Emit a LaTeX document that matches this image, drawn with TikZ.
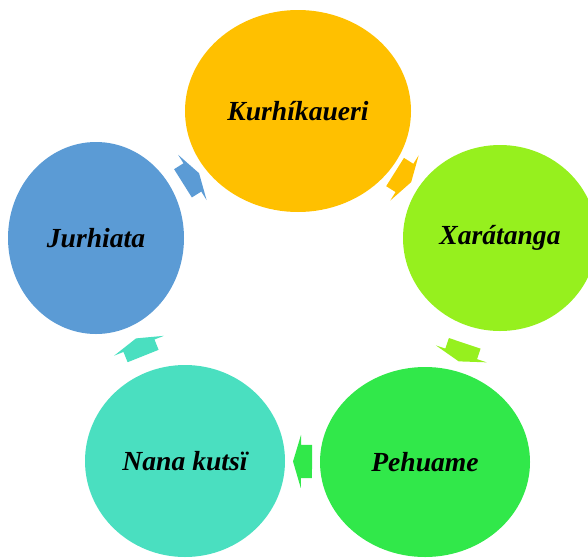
\documentclass[tikz,border=0pt]{standalone}
\usepackage{fontspec}
\setmainfont{Liberation Serif}
\usetikzlibrary{shapes,calc,positioning}

\definecolor{kurhicol}{HTML}{FFC000}
\definecolor{xaracol}{HTML}{96F01E}
\definecolor{pehucol}{HTML}{31E84A}
\definecolor{nanacol}{HTML}{4ADFC0}
\definecolor{jurhicol}{HTML}{5B9BD5}

\begin{document}
\begin{tikzpicture}[
    x=1pt, y=-1pt,
    roundnode/.style={
        ellipse, fill=#1, inner sep=0pt,
        font=\fontsize{27.6}{32}\selectfont\bfseries\itshape
      },
    cyclearrow/.style={
        single arrow, fill=#1, inner xsep=0pt, inner ysep=16.5pt,
        minimum height=19pt, single arrow head extend=10pt,
        single arrow tip angle=147
      },
  ]
  \useasboundingbox (0,0) rectangle (588,557);
  \node[roundnode=kurhicol, minimum width=226pt, minimum height=202pt](K) at (298,111) {Kurhíkaueri};
  \node[roundnode=xaracol, minimum width=194pt, minimum height=186pt](X) at (500,238) {Xarátanga};
  \node[roundnode=pehucol, minimum width=210pt, minimum height=190pt](P) at (425,462) {Pehuame};
  \node[roundnode=nanacol, minimum width=200pt, minimum height=192pt](N) at (185,461) {Nana kutsï};
  \node[roundnode=jurhicol, minimum width=176pt, minimum height=192pt](J) at (96,238) {Jurhiata};
  % block arrows between the circles
  \foreach \a/\b/\c/\t in {J/K/jurhicol/0.46, K/X/kurhicol/0.51, X/P/xaracol/0.5, P/N/pehucol/0.5, N/J/nanacol/0.5}
    \path let \p1=($(\b)-(\a)$), \n1={atan2(\y1,\x1)} in
      node[cyclearrow=\c, rotate=\n1] at ($(\a)!\t!(\b)$) {};
  \end{tikzpicture}
\end{document}
